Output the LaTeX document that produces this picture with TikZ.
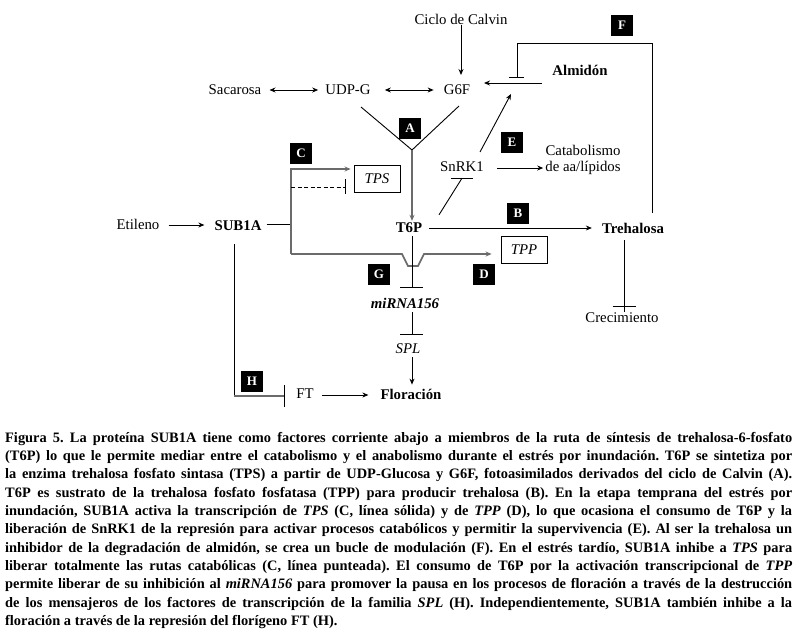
\documentclass[tikz,border=0pt]{standalone}
\usepackage{fontspec}
\setmainfont{Liberation Serif}
\usetikzlibrary{arrows.meta,calc}
\begin{document}
\begin{tikzpicture}[x=1pt,y=-1pt,
  lbl/.style={font=\fontsize{14.8}{16}\selectfont, inner sep=1pt},
  blbl/.style={inner sep=1pt, font=\fontsize{14.8}{16}\selectfont\bfseries},
  ilbl/.style={inner sep=1pt, font=\fontsize{14.8}{16}\selectfont\itshape},
  bilbl/.style={inner sep=1pt, font=\fontsize{14.8}{16}\selectfont\bfseries\itshape},
  tag/.style={fill=black, text=white, font=\fontsize{13}{14}\selectfont\bfseries, minimum width=22pt, minimum height=21pt, inner sep=0},
  gbox/.style={draw, line width=0.9pt, minimum width=46pt, minimum height=27pt, inner sep=0, font=\fontsize{14.8}{16}\selectfont\itshape},
  ln/.style={line width=0.9pt},
  gln/.style={line width=1.6pt, draw=black!58},
  arr/.style={ln, -{Stealth[length=6pt,width=5pt]}},
  dbl/.style={ln, {Stealth[length=6pt,width=5pt]}-{Stealth[length=6pt,width=5pt]}},
  garr/.style={gln, line join=miter, -{Stealth[length=6pt,width=5pt]}}
]
\useasboundingbox (0,0) rectangle (797,637);
\fill[white] (0,0) rectangle (797,637);

% nodes
\node[lbl] (calvin) at (461,19) {Ciclo de Calvin};
\node[lbl] (g6f) at (457,90) {G6F};
\node[lbl] (udpg) at (348,90) {UDP-G};
\node[lbl] (sac) at (235,90) {Sacarosa};
\node[blbl] (alm) at (580,70) {Almidón};
\node[lbl] (snrk) at (462,167) {SnRK1};
\node[lbl, align=center] (cat) at (583,160) {Catabolismo\\de aa/lípidos};
\node[blbl] (t6p) at (409,228) {T6P};
\node[blbl] (tre) at (633,228) {Trehalosa};
\node[lbl] (crec) at (622,318) {Crecimiento};
\node[lbl] (etil) at (138,224) {Etileno};
\node[blbl] (sub) at (238,226) {SUB1A};
\node[gbox] (tps) at (377,179) {TPS};
\node[gbox] (tpp) at (524,250) {TPP};
\node[bilbl] (mir) at (405,303) {miRNA156};
\node[ilbl] (spl) at (408,349) {SPL};
\node[blbl] (flor) at (411,394) {Floración};
\node[lbl] (ft) at (305,394) {FT};

% coordinates
\coordinate (cv) at (461,75);
\coordinate (v) at (412,150);
\coordinate (vl) at (361,107);
\coordinate (vr) at (459,106);
\coordinate (al1) at (542,83);
\coordinate (al2) at (484,83);
\coordinate (f0) at (652,213);
\coordinate (f1) at (652,43);
\coordinate (f2) at (517,43);
\coordinate (f3) at (517,77);
\coordinate (e0) at (480,152);
\coordinate (e1) at (511,94);
\coordinate (sj) at (291,224);
\coordinate (st) at (291,169);
\coordinate (sb) at (291,254);

% connectors
\draw[arr] (calvin.south) -- (cv);
\draw[dbl] ($(sac.east)+(7,0)$) -- ($(udpg.west)+(-6,0)$);
\draw[dbl] ($(udpg.east)+(13,0)$) -- ($(g6f.west)+(-9,0)$);
\draw[arr] (al1) -- (al2);
\draw[ln] (f0) -- (f1) -- (f2) -- (f3);
\draw[ln] ($(f3)+(-8,0)$) -- ($(f3)+(7,0)$);
\draw[arr] (e0) -- (e1);
\draw[arr] ($(snrk.east)+(12,1)$) -- ($(cat.west)+(-1,8)$);
\draw[ln] ($(t6p.north)+(30,-7)$) -- ($(snrk.south)+(0,5)$);
\draw[ln] ($(snrk.south)+(-11,5)$) -- ($(snrk.south)+(11,5)$);
\draw[ln] (vl) -- (v) -- (vr);
\draw[garr] (v) -- ($(t6p.north)+(3,-1)$);
\draw[arr] ($(t6p.east)+(6,0)$) -- ($(tre.west)+(-9,0)$);
\draw[ln] ($(tre.south)+(-9,6)$) coordinate (tc) -- (tc |- crec.north) coordinate (tc2);
\draw[ln] ($(tc2)+(-11.5,-5)$) -- ($(tc2)+(11.5,-5)$);
\draw[arr] ($(etil.east)+(8,1)$) -- ($(sub.west)+(-9,-1)$);
\draw[ln] ($(sub.east)+(4,-2)$) -- (sj);
\draw[garr] (sb) -- (st) -- ($(tps.west |- st)+(-3,0)$);
\draw[garr] (sb) -- (402,254) -- (408,266) -- (418,266) -- (424,254) -- ($(tpp.west |- sb)+(-9,0)$);
\draw[ln, dash pattern=on 4pt off 2.5pt] (291,187) -- (345,187);
\draw[ln] (345,179) -- (345,194);
\draw[ln] ($(t6p.south)+(3,2)$) -- (412,287);
\draw[ln] (400,287) -- (423,287);
\draw[ln] (412,312) -- (412,334);
\draw[ln] (400,334) -- (423,334);
\draw[arr] ($(spl.south)+(4,2)$) -- ($(flor.north)+(1,-3)$);
\draw[arr] ($(ft.east)+(7,1)$) -- ($(flor.west)+(-11,1)$);
\draw[ln] ($(sub.south)+(-4,12)$) coordinate (h0) -- (h0 |- 0,396) coordinate (h1);
\draw[gln] (h1) -- (284,396);
\draw[ln] (284,385) -- (284,407);

% tags
\node[tag] (tA) at (410,128) {A};
\node[tag] (tB) at (518,213) {B};
\node[tag] (tC) at (301,153) {C};
\node[tag] (tD) at (484,274) {D};
\node[tag] (tE) at (512,142) {E};
\node[tag] (tF) at (622,25) {F};
\node[tag] (tG) at (379,274) {G};
\node[tag] (tH) at (252,381) {H};

% caption
\node[anchor=north west, inner sep=0] (cap) at (5,432) {\parbox{787pt}{\fontsize{14.4}{18.3}\selectfont\bfseries\frenchspacing\tolerance=10000\hyphenpenalty=10000
Figura 5. La proteína SUB1A tiene como factores corriente abajo a miembros de la ruta de síntesis de trehalosa-6-fosfato\linebreak
(T6P) lo que le permite mediar entre el catabolismo y el anabolismo durante el estrés por inundación. T6P se sintetiza por\linebreak
la enzima trehalosa fosfato sintasa (TPS) a partir de UDP-Glucosa y G6F, fotoasimilados derivados del ciclo de Calvin (A).\linebreak
T6P es sustrato de la trehalosa fosfato fosfatasa (TPP) para producir trehalosa (B). En la etapa temprana del estrés por\linebreak
inundación, SUB1A activa la transcripción de \textit{TPS} (C, línea sólida) y de \textit{TPP} (D), lo que ocasiona el consumo de T6P y la\linebreak
liberación de SnRK1 de la represión para activar procesos catabólicos y permitir la supervivencia (E). Al ser la trehalosa un\linebreak
inhibidor de la degradación de almidón, se crea un bucle de modulación (F). En el estrés tardío, SUB1A inhibe a \textit{TPS} para\linebreak
liberar totalmente las rutas catabólicas (C, línea punteada). El consumo de T6P por la activación transcripcional de \textit{TPP}\linebreak
permite liberar de su inhibición al \textit{miRNA156} para promover la pausa en los procesos de floración a través de la destrucción\linebreak
de los mensajeros de los factores de transcripción de la familia \textit{SPL} (H). Independientemente, SUB1A también inhibe a la\linebreak
floración a través de la represión del florígeno FT (H).}};
\end{tikzpicture}
\end{document}
